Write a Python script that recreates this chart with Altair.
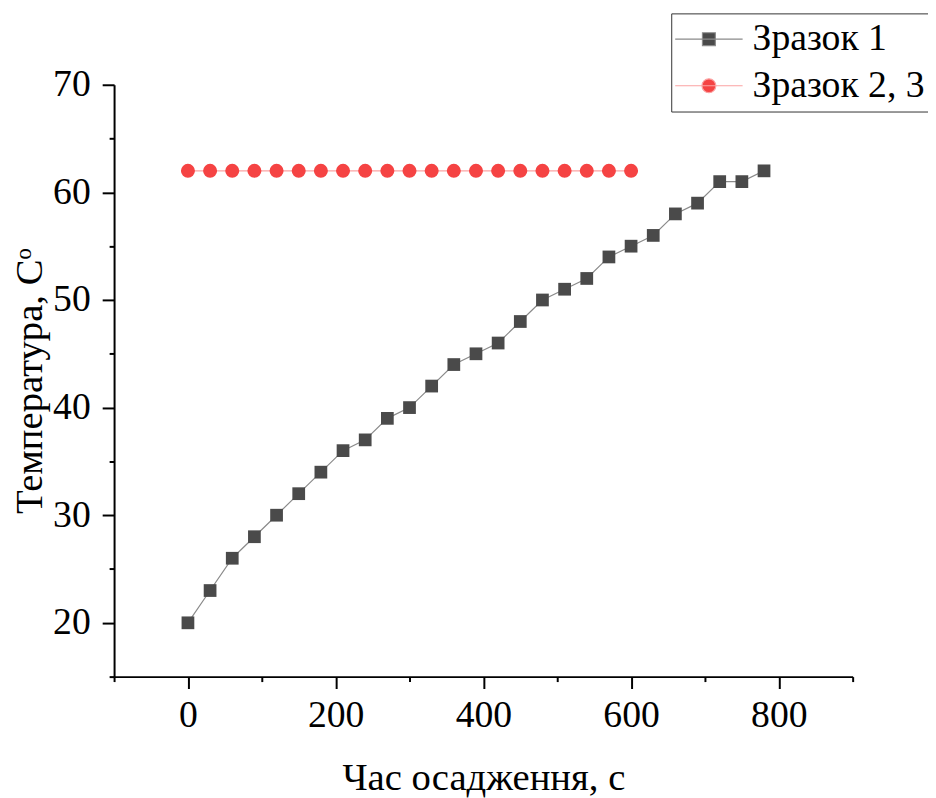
import altair as alt
import pandas as pd

# Series 1: Зразок 1
x1 = [0, 30, 60, 90, 120, 150, 180, 210, 240, 270, 300, 330, 360, 390,
      420, 450, 480, 510, 540, 570, 600, 630, 660, 690, 720, 750, 780]
y1 = [20, 23, 26, 28, 30, 32, 34, 36, 37, 39, 40, 42, 44, 45,
      46, 48, 50, 51, 52, 54, 55, 56, 58, 59, 61, 61, 62]

# Series 2: Зразок 2, 3
x2 = [0, 30, 60, 90, 120, 150, 180, 210, 240, 270, 300, 330, 360, 390,
      420, 450, 480, 510, 540, 570, 600]
y2 = [62, 62, 62, 62, 62, 62, 62, 62, 62, 62, 62, 62, 62, 62,
      62, 62, 62, 62, 62, 62, 62]

names = ["Зразок 1", "Зразок 2, 3"]
line_colors = ["#8a8a8a", "#fba3a3"]
marker_colors = ["#4a4a4a", "#f54343"]
x_ticks = [-100, 0, 100, 200, 300, 400, 500, 600, 700, 800, 900]
y_ticks = [15, 20, 25, 30, 35, 40, 45, 50, 55, 60, 65, 70]

df = pd.concat([
    pd.DataFrame({"t": x1, "T": y1, "s": names[0]}),
    pd.DataFrame({"t": x2, "T": y2, "s": names[1]}),
], ignore_index=True)

FONT = "Liberation Serif"
FS = 38
TFS = 39

# legend glyphs: line segment with marker in the middle (pixel units at symbolSize=4)
SQ = "M-34,0H34M-6.5,-6.5H6.5V6.5H-6.5Z"
CI = "M-34,0H34M7,0A7,7,0,1,1,-7,0A7,7,0,1,1,7,0Z"

x_enc = alt.X("t:Q", scale=alt.Scale(domain=[-100, 900], nice=False, zero=False),
              axis=alt.Axis(values=x_ticks, title="Час осадження, с",
                            labelExpr="datum.value % 200 === 0 ? datum.label : ''",
                            tickSize={"condition": {"test": "datum.value % 200 !== 0", "value": 5}, "value": 12},
                            labelPadding=8, labelFlush=False, labelOverlap=False,
                            titleY=114, titleBaseline="alphabetic"))
y_enc = alt.Y("T:Q", scale=alt.Scale(domain=[15, 70], nice=False, zero=False),
              axis=alt.Axis(values=y_ticks, title="Температура, Сᵒ",
                            labelExpr="datum.value % 10 === 0 ? datum.label : ''",
                            tickSize={"condition": {"test": "datum.value % 10 !== 0", "value": 5}, "value": 12},
                            labelPadding=12, labelFlush=False, labelOverlap=False,
                            titleX=-73, titleY=298.5, titleAngle=270,
                            titleBaseline="alphabetic", titleAlign="center"))

leg = alt.Legend(title=None, orient="none", legendX=562, legendY=-72,
                 symbolSize=4, symbolStrokeWidth=1.2, symbolOpacity=1, symbolOffset=12,
                 labelFont=FONT, labelFontSize=FS, labelColor="black",
                 labelOffset=25, rowPadding=9, padding=7,
                 strokeColor="#333333", labelLimit=400)

stroke_enc = alt.Stroke("s:N", scale=alt.Scale(domain=names, range=line_colors), legend=leg)
fill_enc = alt.Fill("s:N", scale=alt.Scale(domain=names, range=marker_colors), legend=leg)

lines = alt.Chart(df).mark_line(strokeWidth=1.2).encode(
    x=x_enc, y=y_enc, stroke=stroke_enc,
)

squares = alt.Chart(df).transform_filter(
    alt.datum.s == names[0]
).mark_square(size=165, opacity=1).encode(
    x=alt.X("t:Q"), y=alt.Y("T:Q"), fill=fill_enc,
)

circles = alt.Chart(df).transform_filter(
    alt.datum.s == names[1]
).mark_circle(size=200, opacity=1).encode(
    x=alt.X("t:Q"), y=alt.Y("T:Q"), fill=fill_enc,
)

legend_layer = alt.Chart(df).transform_filter("false").mark_point(
    filled=True, opacity=1, strokeWidth=1.2
).encode(
    x=alt.X("t:Q"), y=alt.Y("T:Q"),
    fill=fill_enc, stroke=stroke_enc,
    shape=alt.Shape("s:N", scale=alt.Scale(domain=names, range=[SQ, CI]), legend=leg),
)

chart = alt.layer(lines, squares, circles, legend_layer).properties(
    width=745, height=597,
    background="white",
    autosize=alt.AutoSizeParams(type="none"),
    padding={"left": 107, "top": 74, "right": 76, "bottom": 119},
).configure_view(stroke=None).configure_axis(
    grid=False, domainColor="black", domainWidth=2, tickColor="black", tickWidth=2,
    labelFont=FONT, labelFontSize=FS, labelColor="black",
    titleFont=FONT, titleFontSize=TFS, titleFontWeight="normal", titleColor="black",
)

chart.save("out.html", embed_options={"renderer": "svg", "actions": False})
